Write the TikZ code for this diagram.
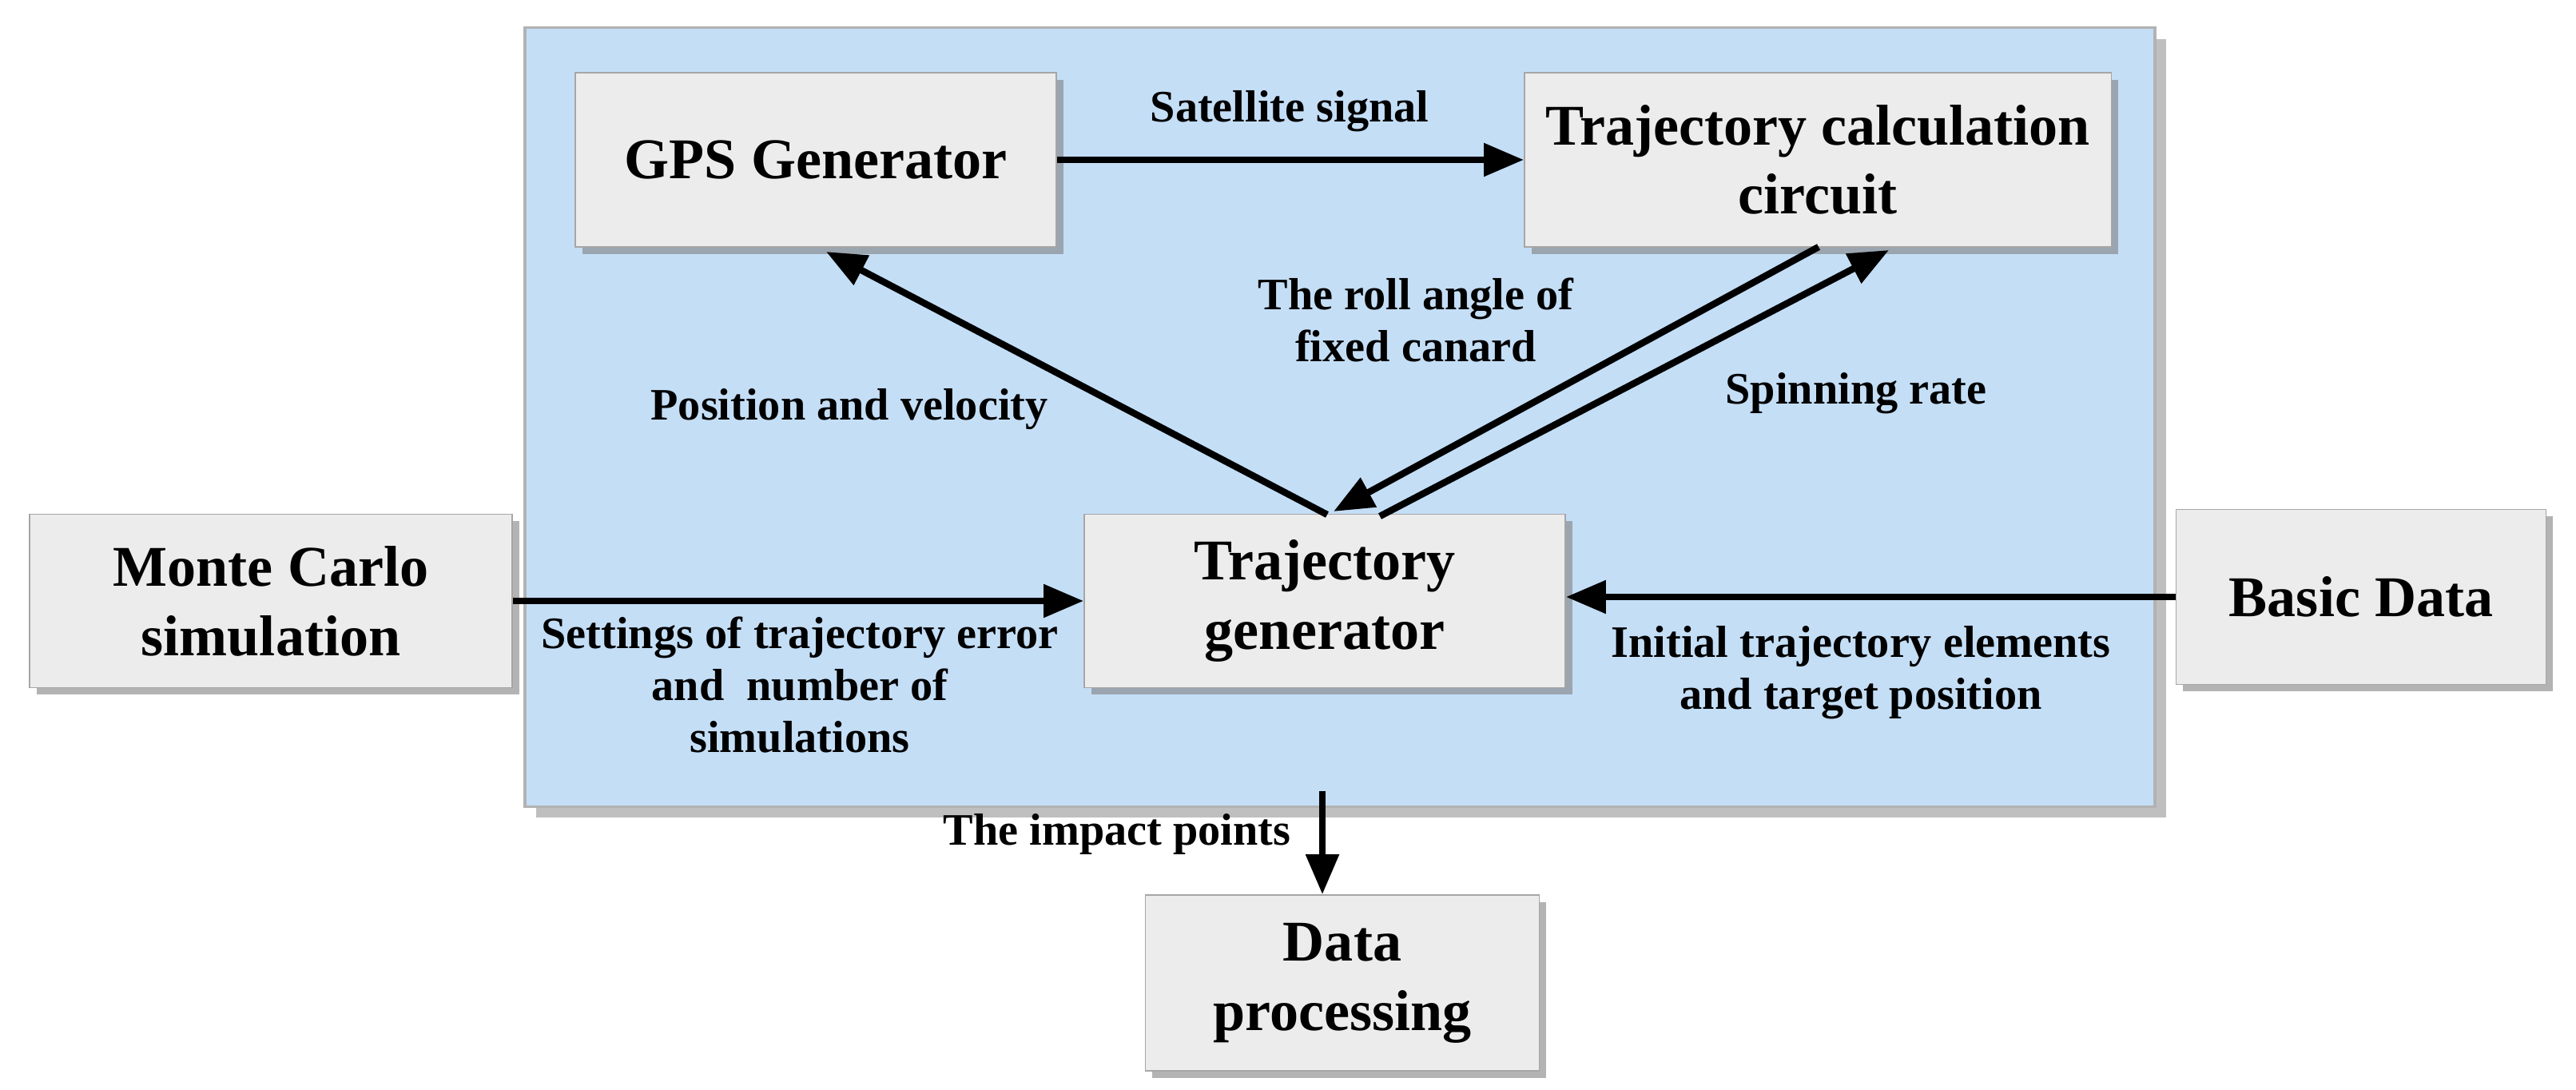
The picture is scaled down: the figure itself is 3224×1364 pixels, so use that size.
\documentclass[tikz,border=0pt]{standalone}
\usepackage{fontspec}
\setmainfont{Liberation Serif}
\usetikzlibrary{calc, positioning, arrows.meta, shadows}
\definecolor{panelblue}{HTML}{C4DEF6}
\begin{document}
\begin{tikzpicture}[x=0.01cm, y=-0.01cm,
  box/.style={draw=gray!70, fill=gray!15, inner sep=0pt, align=center, font=\fontsize{20.5}{24.7}\selectfont\bfseries, drop shadow={opacity=0.6, shadow xshift=2.5pt, shadow yshift=-2.5pt}},
  lbl/.style={align=center, font=\fontsize{16}{18.5}\selectfont\bfseries},
  arr/.style={-{Triangle[length=5mm, width=4mm]}, line width=2.4pt}
]
\useasboundingbox (0,0) rectangle (3224,1364);
\node (panel) [draw=gray!60, fill=panelblue, line width=1pt, minimum width=20.39cm, minimum height=9.74cm, inner sep=0pt, drop shadow={opacity=0.5, shadow xshift=4pt, shadow yshift=-4pt}] at (1677,522) {};

\node (gps)   [box, minimum width=6.02cm, minimum height=2.18cm] at (1021,200) {GPS Generator};
\node (calc)  [box, minimum width=7.34cm, minimum height=2.18cm] at (2275,200) {Trajectory calculation\\circuit};
\node (tgen)  [box, minimum width=6.02cm, minimum height=2.17cm] at (1658,752) {Trajectory\\generator};
\node (monte) [box, minimum width=6.04cm, minimum height=2.17cm] at (339,752) {Monte Carlo\\simulation};
\node (basic) [box, minimum width=4.63cm, minimum height=2.19cm] at (2955,747) {Basic Data};
\node (proc)  [box, minimum width=4.93cm, minimum height=2.2cm] at (1680,1230) {Data\\processing};

\coordinate (gpsin) at (1034,315);
\coordinate (tgtop) at (1661,644);
\coordinate (rollA) at (2276,309);
\coordinate (rollB) at (1669,640);
\coordinate (spinA) at (1727,646);
\coordinate (spinB) at (2364,313);
\coordinate (pbot) at (1655,990);

\draw[arr] (gps) -- (calc);
\draw[arr] (tgtop) -- (gpsin);
\draw[arr] (rollA) -- (rollB);
\draw[arr] (spinA) -- (spinB);
\draw[arr] (monte) -- (tgen);
\draw[arr] (basic.west) -- (tgen.east |- basic.west);
\draw[arr] (pbot) -- (pbot |- proc.north);

\node (sat)    [lbl] at (1614,139) {Satellite signal};
\node (posvel) [lbl] at (1063,512) {Position and velocity};
\node (roll)   [lbl] at (1772,400) {The roll angle of\\fixed canard};
\node (spin)   [lbl] at (2323,492) {Spinning rate};
\node (sett)   [lbl] at (1001,857) {Settings of trajectory error\\and~~number of\\simulations};
\node (init)   [lbl] at (2329,842) {Initial trajectory elements\\and target position};
\node (impact) [lbl] at (1398,1044) {The impact points};
\end{tikzpicture}
\end{document}
